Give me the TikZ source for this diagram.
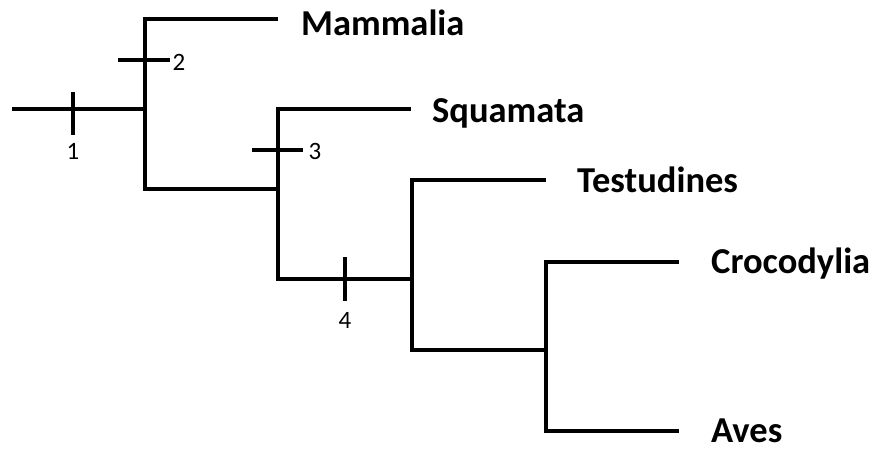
\documentclass[tikz,border=0pt]{standalone}
\usepackage{fontspec}
\setmainfont{Carlito}
\begin{document}
\begin{tikzpicture}[x=1pt,y=-1pt,
  branch/.style={line width=4pt,line join=miter,line cap=butt},
  tickmark/.style={line width=4pt,line cap=butt},
  taxon/.style={anchor=base west,inner sep=0pt,font=\fontsize{36.5}{42}\selectfont\bfseries},
  num/.style={inner sep=0pt,font=\fontsize{25}{30}\selectfont}]
\useasboundingbox (0,0) rectangle (877,448);
% internal nodes
\coordinate (root) at (12,108.5);
\coordinate (nA) at (145,108.5);
\coordinate (nB) at (278,188.5);
\coordinate (nC) at (412,279);
\coordinate (nD) at (546,350);
% leaf ends
\coordinate (eMam) at (278,19);
\coordinate (eSqu) at (411,109);
\coordinate (eTes) at (546,180);
\coordinate (eCro) at (679,262);
\coordinate (eAve) at (679,431);
% taxa
\node[taxon] (Mammalia) at (301,35) {Mammalia};
\node[taxon] (Squamata) at (432,122) {Squamata};
\node[taxon] (Testudines) at (577,192) {Testudines};
\node[taxon] (Crocodylia) at (711,273) {Crocodylia};
\node[taxon] (Aves) at (711,442.5) {Aves};
% tree
\draw[branch] (root) -- (nA);
\draw[branch] (eMam) -| (nA) |- (nB);
\draw[branch] (eSqu) -| (nB) |- (nC);
\draw[branch] (eTes) -| (nC) |- (nD);
\draw[branch] (eCro) -| (nD) |- (eAve);
% character ticks
\coordinate (t1a) at (73,92);  \coordinate (t1b) at (73,135);
\coordinate (t2a) at (118,60); \coordinate (t2b) at (170,60);
\coordinate (t3a) at (252,150); \coordinate (t3b) at (303,150);
\coordinate (t4a) at (345,257); \coordinate (t4b) at (345,301);
\draw[tickmark] (t1a) -- (t1b);
\draw[tickmark] (t2a) -- (t2b);
\draw[tickmark] (t3a) -- (t3b);
\draw[tickmark] (t4a) -- (t4b);
\node[num] (l1) at (73,151) {1};
\node[num] (l2) at (179,62) {2};
\node[num] (l3) at (315,151) {3};
\node[num] (l4) at (345,320) {4};
\end{tikzpicture}
\end{document}
